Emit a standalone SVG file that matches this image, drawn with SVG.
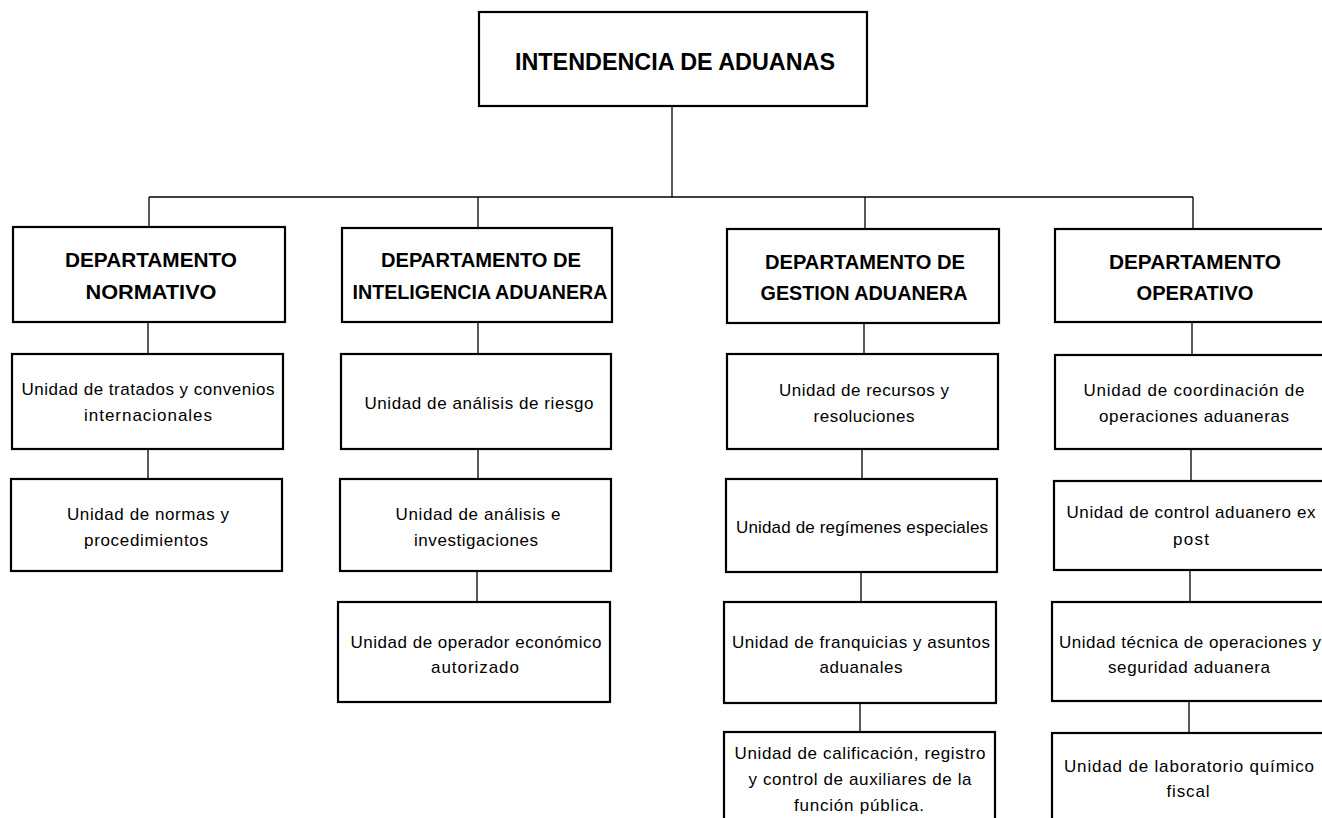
<svg xmlns="http://www.w3.org/2000/svg" width="1322" height="818" viewBox="0 0 1322 818">
<style>
.box{fill:#fff;stroke:#000;stroke-width:2.2}
.ln{stroke:#000;stroke-width:1.3;fill:none}
.t{font-family:"Liberation Sans",Arial,sans-serif;font-size:17px;fill:#000;text-anchor:middle}
.h{font-family:"Liberation Sans",Arial,sans-serif;font-size:20px;font-weight:bold;fill:#000;text-anchor:middle}
.top{font-family:"Liberation Sans",Arial,sans-serif;font-size:24px;font-weight:bold;fill:#000;text-anchor:middle}
</style>
<rect width="1322" height="818" fill="#fff"/>
<g id="connectors">
<path class="ln" d="M672 106V197M149 197H1193M149 197V227M478 197V228M865 197V229M1193 197V229"/>
<path class="ln" d="M148 322V354M148 449V479"/>
<path class="ln" d="M478 322V354M478 449V479M477 571V602"/>
<path class="ln" d="M864 323V354M862 449V479M861 572V602M860 703V732"/>
<path class="ln" d="M1192 322V355M1191 449V481M1190 570V602M1189 701V733"/>
</g>
<g id="intendencia">
<rect class="box" x="479" y="12" width="388" height="94"/>
<text class="top" x="675" y="70" textLength="320" lengthAdjust="spacingAndGlyphs">INTENDENCIA DE ADUANAS</text>
</g>
<g id="dep-normativo">
<rect class="box" x="13" y="227" width="272" height="95"/>
<text class="h" x="151" y="267" textLength="172" lengthAdjust="spacingAndGlyphs">DEPARTAMENTO</text>
<text class="h" x="151" y="299" textLength="131" lengthAdjust="spacingAndGlyphs">NORMATIVO</text>
</g>
<g id="dep-inteligencia">
<rect class="box" x="342" y="228" width="270" height="94"/>
<text class="h" x="481" y="267" textLength="200" lengthAdjust="spacingAndGlyphs">DEPARTAMENTO DE</text>
<text class="h" x="480" y="299" textLength="255" lengthAdjust="spacingAndGlyphs">INTELIGENCIA ADUANERA</text>
</g>
<g id="dep-gestion">
<rect class="box" x="727" y="229" width="272" height="94"/>
<text class="h" x="865" y="269" textLength="200" lengthAdjust="spacingAndGlyphs">DEPARTAMENTO DE</text>
<text class="h" x="864" y="300" textLength="207" lengthAdjust="spacingAndGlyphs">GESTION ADUANERA</text>
</g>
<g id="dep-operativo">
<rect class="box" x="1055" y="229" width="274" height="93"/>
<text class="h" x="1195" y="269" textLength="172" lengthAdjust="spacingAndGlyphs">DEPARTAMENTO</text>
<text class="h" x="1195" y="300" textLength="117" lengthAdjust="spacingAndGlyphs">OPERATIVO</text>
</g>
<g id="u-tratados">
<rect class="box" x="12" y="354" width="271" height="95"/>
<text class="t" x="148" y="395" textLength="253">Unidad de tratados y convenios</text>
<text class="t" x="148" y="421" textLength="128">internacionales</text>
</g>
<g id="u-normas">
<rect class="box" x="11" y="479" width="271" height="92"/>
<text class="t" x="148" y="520" textLength="162">Unidad de normas y</text>
<text class="t" x="146" y="546" textLength="124">procedimientos</text>
</g>
<g id="u-riesgo">
<rect class="box" x="341" y="354" width="270" height="95"/>
<text class="t" x="479" y="409" textLength="229">Unidad de análisis de riesgo</text>
</g>
<g id="u-investigaciones">
<rect class="box" x="340" y="479" width="271" height="92"/>
<text class="t" x="478" y="520" textLength="165">Unidad de análisis e</text>
<text class="t" x="476" y="546" textLength="124">investigaciones</text>
</g>
<g id="u-operador">
<rect class="box" x="338" y="602" width="272" height="100"/>
<text class="t" x="476" y="648" textLength="251">Unidad de operador económico</text>
<text class="t" x="475" y="673" textLength="88">autorizado</text>
</g>
<g id="u-recursos">
<rect class="box" x="727" y="354" width="271" height="95"/>
<text class="t" x="864" y="396" textLength="170">Unidad de recursos y</text>
<text class="t" x="864" y="422" textLength="101">resoluciones</text>
</g>
<g id="u-regimenes">
<rect class="box" x="726" y="479" width="271" height="93"/>
<text class="t" x="862" y="533" textLength="252">Unidad de regímenes especiales</text>
</g>
<g id="u-franquicias">
<rect class="box" x="724" y="602" width="272" height="101"/>
<text class="t" x="861" y="648" textLength="258">Unidad de franquicias y asuntos</text>
<text class="t" x="861" y="673" textLength="83">aduanales</text>
</g>
<g id="u-calificacion">
<rect class="box" x="724" y="732" width="271" height="100"/>
<text class="t" x="860" y="759" textLength="251">Unidad de calificación, registro</text>
<text class="t" x="860" y="785" textLength="223">y control de auxiliares de la</text>
<text class="t" x="859" y="811" textLength="130">función pública.</text>
</g>
<g id="u-coordinacion">
<rect class="box" x="1055" y="355" width="274" height="94"/>
<text class="t" x="1194" y="396" textLength="221">Unidad de coordinación de</text>
<text class="t" x="1194" y="422" textLength="190">operaciones aduaneras</text>
</g>
<g id="u-control">
<rect class="box" x="1054" y="481" width="274" height="89"/>
<text class="t" x="1191" y="518" textLength="249">Unidad de control aduanero ex</text>
<text class="t" x="1191" y="545" textLength="36">post</text>
</g>
<g id="u-tecnica">
<rect class="box" x="1052" y="602" width="276" height="99"/>
<text class="t" x="1190" y="648" textLength="262">Unidad técnica de operaciones y</text>
<text class="t" x="1189" y="673" textLength="162">seguridad aduanera</text>
</g>
<g id="u-laboratorio">
<rect class="box" x="1052" y="733" width="276" height="100"/>
<text class="t" x="1189" y="772" textLength="250">Unidad de laboratorio químico</text>
<text class="t" x="1188" y="797" textLength="43">fiscal</text>
</g>
</svg>
